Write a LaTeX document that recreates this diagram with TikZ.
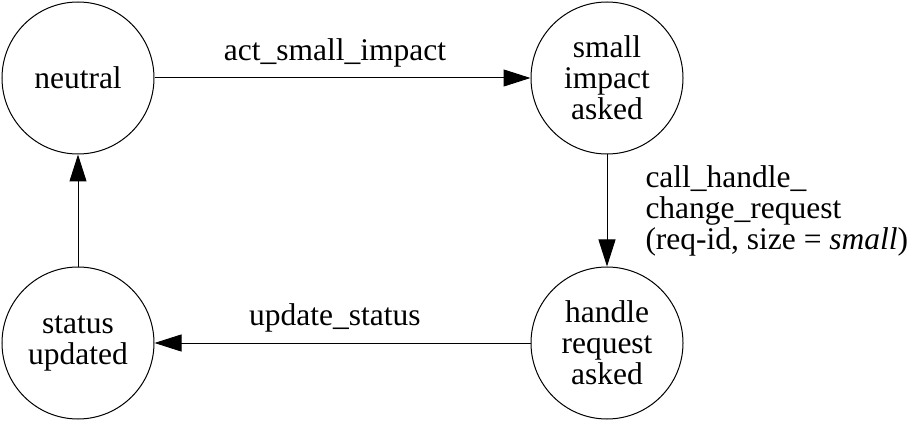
\documentclass[tikz,border=0pt]{standalone}
\usepackage{fontspec}
\setmainfont{Liberation Serif}
\usepackage{tikz}
\usetikzlibrary{arrows.meta,positioning}

\begin{document}
\begin{tikzpicture}[x=1pt,y=1pt,
      state/.style={draw,circle,line width=1pt,minimum size=152pt,inner sep=0pt,
                    align=center,font=\fontsize{31.5}{31}\selectfont},
      trans/.style={-{Triangle[length=27pt,width=17pt]},line width=1pt},
      lab/.style={font=\fontsize{31.5}{31}\selectfont,inner sep=0pt}]
    \useasboundingbox (0,0) rectangle (913,-422);
    \node[state] (neutral) at (78,-78)   {neutral};
    \node[state] (small)   at (607,-78)  {small\\impact\\asked};
    \node[state] (handle)  at (607,-343) {handle\\request\\asked};
    \node[state] (status)  at (78,-343)  {status\\updated};
    \draw[trans] (neutral) -- node[lab,above=10pt,pos=0.48] {act\_small\_impact} (small);
    \draw[trans] (small)   -- node[lab,right=38pt,align=left]
      {call\_handle\_\\change\_request\\(req-id, size = \textit{small})} (handle);
    \draw[trans] (handle)  -- node[lab,above=10pt,pos=0.52] {update\_status} (status);
    \draw[trans] (status)  -- (neutral);
  \end{tikzpicture}
\end{document}
